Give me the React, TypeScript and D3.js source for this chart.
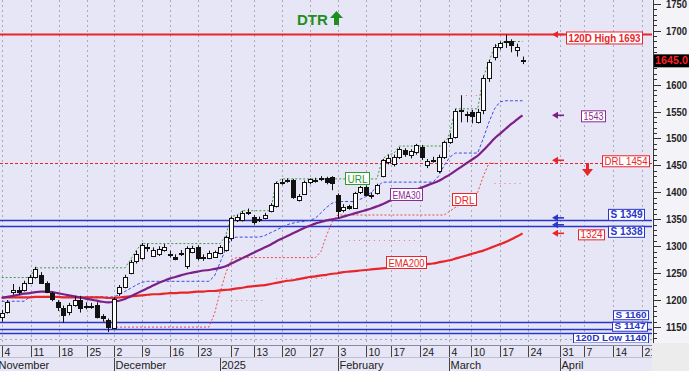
import React from 'react';
import * as d3 from 'd3';

const W = 689;
const H = 371;
const PLOT_R = 652;
const PLOT_B = 343;

// OHLC (trading-day index 0..93)
const opens = [1168,1178,1215,1218,1219,1232,1243,1247,1232,1214,1196,1186,1178,1191,1200,1190,1189,1191,1170,1163,1150,1213,1225,1251,1272,1278,1297,1282,1286,1293,1285,1281,1287,1262,1290,1298,1281,1279,1281,1288,1293,1315,1349,1349,1363,1354,1350,1353,1366,1375,1419,1422,1423,1386,1398,1418,1422,1426,1426,1428,1395,1366,1374,1372,1400,1410,1395,1399,1430,1456,1452,1465,1478,1468,1474,1484,1450,1460,1440,1465,1493,1503,1553,1545,1549,1531,1553,1612,1652,1670,1678,1680,1664,1646];
const highs = [1182,1200,1230,1225,1236,1247,1262,1252,1235,1216,1200,1190,1195,1208,1208,1196,1195,1196,1174,1166,1205,1228,1247,1275,1292,1306,1305,1298,1300,1304,1292,1285,1293,1300,1301,1302,1285,1292,1292,1302,1320,1355,1358,1366,1370,1358,1355,1362,1380,1420,1425,1426,1425,1397,1422,1426,1427,1430,1429,1430,1398,1378,1377,1401,1412,1413,1400,1416,1462,1470,1470,1484,1482,1480,1490,1488,1462,1466,1470,1496,1510,1555,1580,1550,1553,1555,1617,1646,1675,1680,1693,1684,1676,1652];
const lows = [1160,1175,1210,1210,1216,1230,1240,1230,1213,1198,1180,1158,1172,1188,1177,1183,1184,1166,1160,1141,1147,1208,1222,1248,1268,1275,1290,1280,1282,1290,1279,1274,1282,1258,1287,1274,1273,1276,1279,1285,1290,1310,1345,1346,1358,1340,1345,1350,1363,1372,1414,1418,1388,1383,1396,1415,1418,1421,1415,1404,1352,1363,1368,1370,1397,1393,1388,1396,1428,1452,1448,1462,1466,1463,1470,1460,1445,1455,1436,1462,1490,1500,1530,1530,1528,1528,1545,1605,1645,1665,1668,1660,1652,1638];
const closes = [1176,1197,1218,1215,1232,1243,1258,1233,1216,1203,1186,1173,1191,1200,1186,1189,1190,1169,1166,1150,1203,1224,1243,1271,1285,1302,1298,1294,1295,1299,1286,1277,1286,1296,1297,1278,1280,1288,1290,1299,1317,1352,1354,1362,1364,1345,1351,1358,1377,1418,1420,1423,1392,1394,1420,1424,1423,1427,1418,1417,1365,1372,1370,1399,1410,1396,1396,1414,1460,1463,1465,1480,1471,1476,1487,1465,1458,1461,1466,1493,1501,1551,1552,1543,1541,1550,1613,1642,1670,1677,1680,1673,1670,1645];

const ema200 = [1205,1205,1205,1205,1205,1205,1206,1206,1206,1206,1206,1205,1205,1205,1205,1205,1205,1205,1205,1204,1204,1205,1206,1207,1208,1209,1210,1211,1211,1212,1213,1213,1214,1214,1215,1216,1216,1217,1217,1218,1219,1220,1222,1223,1225,1226,1227,1228,1230,1232,1234,1236,1237,1239,1241,1243,1244,1246,1247,1249,1250,1252,1253,1254,1255,1256,1257,1258,1259,1260,1261,1262,1263,1264,1265,1266,1267,1268,1270,1272,1274,1277,1280,1283,1286,1289,1292,1296,1300,1304,1308,1313,1318,1324];
const ema30 = [1204,1206,1208,1210,1212,1213,1215,1216,1216,1215,1213,1211,1209,1207,1205,1203,1201,1199,1197,1196,1197,1199,1202,1207,1212,1217,1222,1227,1232,1236,1240,1243,1246,1249,1251,1253,1255,1256,1258,1260,1263,1268,1273,1278,1283,1288,1293,1298,1303,1309,1314,1319,1324,1329,1334,1338,1342,1345,1348,1350,1352,1355,1358,1361,1364,1367,1370,1374,1378,1383,1388,1393,1397,1401,1405,1409,1413,1417,1421,1427,1433,1440,1447,1454,1461,1468,1478,1489,1500,1509,1518,1527,1535,1543];
const stopLine = [1198,1198,1198,1198,1198,1206,1206,1206,1206,1206,1206,1206,1206,1206,1206,1206,1206,1206,1206,1206,1206,1210,1216,1222,1228,1233,1235,1235,1235,1235,1235,1235,1235,1235,1235,1235,1235,1235,1245,1270,1295,1315,1317,1317,1317,1317,1317,1320,1325,1330,1335,1340,1343,1345,1346,1348,1352,1362,1372,1380,1383,1383,1383,1383,1387,1392,1400,1410,1419,1419,1419,1419,1419,1419,1419,1419,1419,1419,1430,1450,1465,1473,1473,1473,1473,1473,1500,1530,1555,1568,1570,1570,1570,1570];
const url = [1242,1242,1242,1242,1242,1242,1260,1260,1260,1260,1260,1260,1260,1260,1260,1260,1260,1260,1260,1260,1260,1260,1260,1275,1292,1305,1305,1305,1305,1305,1305,1305,1305,1305,1305,1305,1305,1305,1305,1305,1320,1355,1358,1366,1366,1366,1366,1366,1366,1418,1425,1425,1425,1425,1425,1425,1425,1425,1425,1425,1425,1425,1425,1425,1425,1425,1425,1425,1462,1470,1472,1486,1486,1486,1486,1486,1486,1486,1486,1486,1510,1555,1555,1555,1555,1555,1614,1642,1670,1677,1680,1680,1680,1680];
const drl: (number | null)[] = [null,null,null,null,null,null,null,null,null,null,null,null,null,null,null,null,null,1169,1166,1150,1150,1150,1150,1150,1150,1150,1150,1150,1150,1150,1150,1150,1150,1150,1150,1150,1150,1150,1175,1215,1250,1275,1279,1279,1279,1279,1279,1279,1279,1279,1279,1279,1279,1279,1279,1279,1279,1290,1320,1345,1358,1358,1358,1358,1358,1358,1358,1358,1358,1358,1358,1358,1358,1358,1358,1358,1358,1358,1358,1358,1365,1372,1378,1383,1388,1400,1430,1454,1454,null,null,null,null,null];
// faint dotted bands: [startIndex, endIndex, value]
const faintSegs: [number, number, number][] = [[41, 47, 1200], [49, 58, 1241], [62, 74, 1312], [82, 86, 1580], [88, 93, 1417]];

// y axis
const yMajor = [1150, 1200, 1250, 1300, 1350, 1400, 1450, 1500, 1550, 1600, 1650, 1700, 1750];
// x axis ticks (in trading-day index units)
const tickLabels = ['4','11','18','25','2','9','16','23','7','13','20','27','3','10','17','24','4','10','17','24','31','7','14','21'];
const tickPos = [0,5.18,10.3,15.2,20.1,25,30.1,35.1,41,45,50,55,60.1,65,69.6,74.7,79.8,83.8,88.9,93.9,99.7,104,109.1,114.3];
const monthLabels = ['November','December','2025','February','March','April'];
const monthPos = [-0.85,20.1,39,60.1,79.8,99.7];

// horizontal levels
const high120 = 1693;
const low120 = 1140;
const drlLevel = 1454;
const supports = [1349, 1338, 1160, 1147];
const lastPrice = 1645.0;

const FONT = 'Arial, "Liberation Sans", sans-serif';

function Box({ x, y, w, h, color, text, bold, fill = '#ffffff' }: any) {
  const fs = Math.min(11, h);
  return (
    <g>
      <rect x={x + 0.5} y={y + 0.5} width={w} height={h} fill={fill} stroke={color} strokeWidth={1} />
      <text x={x + 2.5} y={y + h - 1.5} fontSize={fs} fontWeight={bold ? 'bold' : 'normal'} fill={color} fontFamily={FONT} textLength={w - 4} lengthAdjust="spacingAndGlyphs">{text}</text>
    </g>
  );
}

function LeftArrow({ x, y, color }: any) {
  return (
    <g>
      <path d={`M${x},${y} L${x + 6},${y - 3.5} L${x + 6},${y + 3.5} Z`} fill={color} />
      <line x1={x + 5} x2={x + 12} y1={y} y2={y} stroke={color} strokeWidth={1.6} />
    </g>
  );
}

export default function App() {
  const x = d3.scaleLinear().domain([0, 93]).range([1.7, 522.5]);
  const y = d3.scaleLinear().domain([1140, 1700]).range([332.5, 30.7]);

  const mkLine = (arr: (number | null)[]) =>
    d3.line<number | null>().defined((d) => d != null).x((_, i) => x(i)).y((d) => y(d as number))(arr) || '';
  const curve = (arr: number[]) =>
    d3.line<number>().x((_, i) => x(i)).y((d) => y(d)).curve(d3.curveMonotoneX)(arr) || '';

  const minorTicks = d3.range(1130, 1751, 10);

  const yS = (v: number) => Math.round(y(v)) + 0.5;

  // axis labels hidden behind the last-price box are not drawn
  const visibleMajor = yMajor.filter((v) => Math.abs(y(v) - y(lastPrice)) > 9);

  return (
    <div style={{ width: W, height: H, overflow: 'hidden' }}>
      <style>{`body{margin:0;overflow:hidden}`}</style>
      <svg width={W} height={H} style={{ display: 'block' }}>
        <defs>
          <clipPath id="plot"><rect x={0} y={0} width={PLOT_R} height={PLOT_B} /></clipPath>
        </defs>
        <rect x={0} y={0} width={W} height={H} fill="#ececec" />
        <rect x={0} y={0} width={PLOT_R} height={PLOT_B} fill="#e6e6f6" />
        <rect x={PLOT_R} y={0} width={W - PLOT_R} height={PLOT_B} fill="#f3f3f8" />
        <rect x={0} y={PLOT_B} width={PLOT_R} height={H - PLOT_B} fill="#e6e6f6" />

        <g clipPath="url(#plot)">
          {/* vertical grid */}
          {tickPos.map((t, i) => (
            <line key={'g' + i} x1={Math.round(x(t)) + 0.5} x2={Math.round(x(t)) + 0.5} y1={0} y2={PLOT_B} stroke="#a9a9bb" strokeWidth={1} strokeDasharray="2,3" />
          ))}
          <line x1={0} x2={PLOT_R} y1={339.5} y2={339.5} stroke="#a9a9bb" strokeDasharray="2,3" />

          {/* horizontal levels */}
          <line x1={0} x2={PLOT_R} y1={y(high120)} y2={y(high120)} stroke="#e8262a" strokeWidth={2} />
          <line x1={0} x2={PLOT_R} y1={yS(drlLevel)} y2={yS(drlLevel)} stroke="#e8262a" strokeWidth={1} strokeDasharray="3,2" />
          {supports.map((s, i) => (
            <line key={'s' + i} x1={0} x2={PLOT_R} y1={yS(s)} y2={yS(s)} stroke="#2a36c8" strokeWidth={1.3} />
          ))}
          <line x1={0} x2={PLOT_R} y1={yS(low120)} y2={yS(low120)} stroke="#2a36c8" strokeWidth={1.6} />

          {/* faint dotted bands */}
          {faintSegs.map(([a, b, v], i) => (
            <line key={'f' + i} x1={x(a)} x2={x(b)} y1={yS(v)} y2={yS(v)} stroke="#e07a7a" strokeWidth={1} strokeDasharray="1,4" />
          ))}

          {/* step lines */}
          <path d={mkLine(drl)} fill="none" stroke="#ec4646" strokeWidth={1} strokeDasharray="2,2" />
          <path d={mkLine(url)} fill="none" stroke="#3c9a3c" strokeWidth={1} strokeDasharray="2,2" />
          <path d={mkLine(stopLine)} fill="none" stroke="#3a4ae6" strokeWidth={1} strokeDasharray="3,2" />

          {/* EMAs */}
          <path d={curve(ema200)} fill="none" stroke="#e8262a" strokeWidth={2.2} />
          <path d={curve(ema30)} fill="none" stroke="#7c1f86" strokeWidth={2.2} />

          {/* candles */}
          {opens.map((o, i) => {
            const c = closes[i];
            const cx = Math.round(x(i)) + 0.5;
            const top = y(Math.max(o, c));
            const bot = y(Math.min(o, c));
            const hgt = Math.max(1, bot - top);
            return (
              <g key={'c' + i}>
                <line x1={cx} x2={cx} y1={y(highs[i])} y2={y(lows[i])} stroke="#111" strokeWidth={1} />
                <rect x={cx - 2} y={Math.round(top) + 0.5} width={4} height={Math.round(hgt)} fill={c >= o ? '#ffffff' : '#111111'} stroke="#111" strokeWidth={1} />
              </g>
            );
          })}

          {/* line labels */}
          <Box x={345} y={172} w={24} h={12} color="#2e9a2e" text="URL" />
          <Box x={390} y={188} w={32} h={12} color="#8a2a94" text="EMA30" />
          <Box x={452} y={193} w={24} h={12} color="#e8262a" text="DRL" />
          <Box x={386} y={256} w={40} h={12} color="#e8262a" text="EMA200" />

          {/* arrows */}
          <LeftArrow x={552} y={y(high120)} color="#e8262a" />
          <LeftArrow x={552} y={y(ema30[ema30.length - 1])} color="#7c1f86" />
          <LeftArrow x={552} y={y(drlLevel) - 3} color="#e8262a" />
          <LeftArrow x={552} y={y(supports[0]) - 2} color="#2a36c8" />
          <LeftArrow x={552} y={y(supports[1]) - 1} color="#2a36c8" />
          <LeftArrow x={552} y={y(ema200[ema200.length - 1])} color="#e8262a" />
          <g>
            <line x1={587.5} x2={587.5} y1={163} y2={171} stroke="#e8262a" strokeWidth={3} />
            <path d="M582,169 L593,169 L587.5,176 Z" fill="#e8262a" />
          </g>

          {/* right-side labels */}
          <Box x={566} y={y(high120) - 3} w={76} h={12} color="#e8262a" text={`120D High ${high120}`} bold />
          <Box x={581} y={y(ema30[ema30.length - 1]) - 5} w={24} h={11} color="#8a2a94" text={`${ema30[ema30.length - 1]}`} />
          <Box x={602} y={y(drlLevel) - 8} w={47} h={11} color="#e8262a" text={`DRL ${drlLevel}`} />
          <Box x={608} y={y(supports[0]) - 11} w={36} h={11} color="#2a36c8" text={`S ${supports[0]}`} bold />
          <Box x={608} y={y(supports[1])} w={36} h={11} color="#2a36c8" text={`S ${supports[1]}`} bold />
          <Box x={578} y={y(ema200[ema200.length - 1]) - 4} w={26} h={10} color="#e8262a" text={`${ema200[ema200.length - 1]}`} />
          <Box x={613} y={y(supports[2]) - 11.5} w={35} h={9} color="#2a36c8" text={`S ${supports[2]}`} bold />
          <Box x={612} y={y(supports[3]) - 7} w={35} h={9} color="#2a36c8" text={`S ${supports[3]}`} bold />
          <Box x={573} y={y(low120) + 0.5} w={75} h={9.5} color="#2a36c8" text={`120D Low ${low120}`} bold />

          {/* DTR */}
          <text x={297} y={24.5} fontSize={15} fontWeight="bold" fill="#1f8e1f" fontFamily={FONT}>DTR</text>
          <path d="M336.5,11 L343,18 L339,18 L339,25 L334,25 L334,18 L330,18 Z" fill="#1f8e1f" />
        </g>

        {/* right axis */}
        <line x1={653.5} x2={653.5} y1={0} y2={PLOT_B} stroke="#333" strokeWidth={1} />
        {minorTicks.map((v) => (
          <line key={'m' + v} x1={653.5} x2={v % 50 === 0 ? 661 : 657} y1={yS(v)} y2={yS(v)} stroke="#333" strokeWidth={1} />
        ))}
        {visibleMajor.map((v) => (
          <text key={'l' + v} x={666} y={y(v) + 4} fontSize={10.5} fontWeight="bold" fill="#222" fontFamily={FONT} textLength={21} lengthAdjust="spacingAndGlyphs">{v}</text>
        ))}
        <rect x={654} y={y(lastPrice) - 6} width={40} height={13} fill="#000" />
        <text x={655} y={y(lastPrice) + 4} fontSize={11} fontWeight="bold" fill="#ff2020" fontFamily={FONT} textLength={33} lengthAdjust="spacingAndGlyphs">{lastPrice.toFixed(1)}</text>

        {/* bottom axis */}
        <line x1={0} x2={PLOT_R} y1={345.5} y2={345.5} stroke="#8a8a9a" strokeWidth={1} />
        <line x1={0} x2={PLOT_R} y1={357.5} y2={357.5} stroke="#c0c0cc" strokeWidth={1} />
        {tickPos.map((t, i) => {
          const tx = Math.round(x(t)) + 0.5;
          return (
            <g key={'t' + i}>
              <line x1={tx} x2={tx} y1={346} y2={357} stroke="#444" strokeWidth={1} />
              <text x={tx + 2} y={355.5} fontSize={10.5} fill="#222" fontFamily={FONT}>{tickLabels[i]}</text>
            </g>
          );
        })}
        {monthPos.map((m, i) => {
          const mx = Math.round(x(m)) + 0.5;
          return (
            <g key={'mo' + i}>
              {i > 0 && <line x1={mx} x2={mx} y1={358} y2={371} stroke="#444" strokeWidth={1} />}
              <text x={mx + 1} y={368.5} fontSize={11} fill="#222" fontFamily={FONT}>{monthLabels[i]}</text>
            </g>
          );
        })}
        <rect x={PLOT_R} y={PLOT_B + 2} width={W - PLOT_R} height={H - PLOT_B} fill="#ececec" />
      </svg>
    </div>
  );
}
